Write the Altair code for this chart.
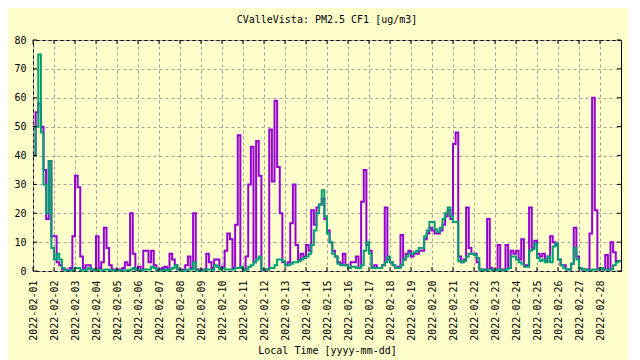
import altair as alt
import pandas as pd

TITLE = "CValleVista: PM2.5 CF1 [ug/m3]"
X_TITLE = "Local Time [yyyy-mm-dd]"
DAYS = list(range(1, 29))
HOURS = [0, 3, 6, 9, 12, 15, 18, 21]
Y_TICKS = [0, 10, 20, 30, 40, 50, 60, 70, 80]

# 3-hourly values, one row per day (Feb 1 .. Feb 28)
purple_vals = [
    [40, 55, 58, 50, 35, 18, 38, 12],
    [12, 3, 2, 0.5, 0.5, 0.3, 1, 12],
    [33, 29, 5, 1, 2, 2, 0.5, 0.5],
    [12, 1, 3, 15, 8, 2, 0.5, 0.5],
    [0.5, 0.5, 1, 3, 2, 20, 6, 0.5],
    [1.5, 0.5, 7, 7, 3, 7, 2, 0.5],
    [0.5, 1, 1.5, 0.5, 6, 4, 2, 0.5],
    [0.5, 0.5, 2, 5, 1, 20, 0.5, 0.5],
    [0.5, 0.5, 6, 3, 1, 4, 4, 1],
    [1.5, 7, 13, 11, 1, 16, 47, 1],
    [0.5, 5, 30, 43, 3, 45, 33, 0.5],
    [0.5, 0.5, 49, 31, 59, 36, 20, 3],
    [2, 3, 16.5, 30, 9, 4, 6, 5],
    [9, 7, 21, 16, 22, 23, 25, 18],
    [14, 10, 7, 5, 3, 2.5, 6, 2],
    [1, 3, 3, 5, 1, 24, 35, 9],
    [7, 1, 2, 1, 1, 2, 22, 4],
    [3, 2, 1, 1.5, 12.5, 4, 6, 7],
    [5, 6, 6, 7, 7, 11, 13, 15],
    [14, 13, 13, 14, 16, 19, 21, 18],
    [44, 48, 5, 3, 4, 22, 8, 6],
    [6, 3, 0.5, 0.5, 0.5, 18, 1, 0.5],
    [0.5, 9, 0.5, 0.5, 9, 1, 7, 6],
    [7, 4, 11, 2, 2, 22, 8, 10.5],
    [6, 5, 6, 3.5, 5, 12, 10, 9],
    [4, 2, 2, 0.5, 0.5, 2.5, 15, 5],
    [1, 0.5, 0.5, 0.5, 13, 60, 21, 0.5],
    [1, 0.5, 5.5, 0.5, 10, 6.5, 3.5, 3.5],
]

green_vals = [
    [40, 50, 75, 48, 30, 20, 38, 8],
    [4, 6, 4, 1, 0.3, 0.3, 0.3, 0.5],
    [1, 1, 0.3, 0.2, 0.5, 1, 0.5, 0.3],
    [0.5, 0.3, 0.3, 0.5, 0.5, 0.3, 0.2, 0.2],
    [0.2, 0.2, 0.3, 0.3, 0.3, 0.5, 1, 0.5],
    [0.3, 0.3, 0.5, 0.5, 0.5, 1.5, 1, 0.3],
    [0.2, 0.3, 0.5, 0.3, 0.5, 1, 2, 0.5],
    [0.2, 0.2, 0.3, 0.5, 0.5, 3, 0.3, 0.3],
    [0.2, 0.3, 0.5, 0.5, 0.3, 2, 1.5, 0.5],
    [1, 0.5, 0.5, 0.5, 0.5, 1, 1, 1.5],
    [0.3, 0.5, 1.5, 2, 3, 4, 5, 0.5],
    [0.5, 0.5, 1, 1, 2, 4, 4, 3.5],
    [2, 2, 2.5, 3, 3, 3.5, 4, 4.5],
    [5, 6, 9, 14, 20, 23, 28, 19],
    [13, 10, 6, 5, 2.5, 2, 2, 2],
    [1, 1.5, 1.5, 1, 1, 2, 7, 10],
    [6, 1, 1, 1, 1, 2, 3, 5],
    [3, 2, 1, 1, 2, 4, 5, 6],
    [6, 6.5, 7, 8, 8, 12, 14, 17],
    [17, 14.5, 13.5, 15, 18, 20, 22, 19],
    [17, 17, 3.5, 3, 3.5, 5, 6, 6],
    [5.5, 4.5, 0.5, 0.3, 0.3, 0.5, 0.5, 0.3],
    [0.3, 0.5, 0.3, 0.3, 0.5, 1, 5, 5],
    [4, 3, 2.5, 1.5, 1.5, 7, 7.5, 9.5],
    [4.5, 3.5, 4, 3, 5, 3, 8.5, 9.5],
    [4, 2, 1, 0.5, 0.5, 2.5, 8, 4],
    [1, 0.5, 0.5, 0.3, 0.3, 0.5, 0.5, 0.5],
    [1, 0.5, 0.5, 0.5, 0.5, 2, 3, 3.5],
]

END_TIME = "2022-03-01T00:00:00"
FONT = "DejaVu Sans Mono"
BG = "#ffffcc"
PURPLE = "#9400d3"
GREEN = "#009e73"


def series_frame(rows):
    times, vals = [], []
    for d, row in zip(DAYS, rows):
        for h, v in zip(HOURS, row):
            times.append(f"2022-02-{d:02d}T{h:02d}:00:00")
            vals.append(v)
    times.append(END_TIME)
    vals.append(rows[-1][-1])
    return pd.DataFrame({"time": times, "value": vals})


df_p = series_frame(purple_vals)
df_g = series_frame(green_vals)

x_scale = alt.Scale(domain=[alt.DateTime(year=2022, month=2, date=1),
                            alt.DateTime(year=2022, month=3, date=1)])
y_scale = alt.Scale(domain=[0, 80], nice=False, zero=True)

x_axis = alt.Axis(
    values=[alt.DateTime(year=2022, month=2, date=d) for d in DAYS],
    format="%Y-%m-%d", labelAngle=270, labelPadding=9, labelFont=FONT,
    labelFontSize=10, labelColor="black", ticks=False, tickSize=0, domain=False,
    grid=True, gridColor="#a0a0a0", gridDash=[3, 3], gridWidth=1,
    title=X_TITLE, titleFont=FONT, titleFontSize=10, titleFontWeight="normal",
    titleColor="black", titlePadding=5, labelOverlap=False, labelFlush=False,
)
y_axis = alt.Axis(
    values=Y_TICKS, labelFont=FONT, labelFontSize=10, labelColor="black",
    labelPadding=7, ticks=False, tickSize=0, domain=False, grid=True,
    gridColor="#a0a0a0", gridDash=[3, 3], gridWidth=1, title=None,
    labelOverlap=False, labelFlush=False,
)

X = alt.X("time:T", scale=x_scale, axis=x_axis)
Y = alt.Y("value:Q", scale=y_scale, axis=y_axis)

line_p = alt.Chart(df_p).mark_line(
    interpolate="step-after", color=PURPLE, strokeWidth=2
).encode(x=X, y=Y)
line_g = alt.Chart(df_g).mark_line(
    interpolate="step-after", color=GREEN, strokeWidth=2
).encode(x=X, y=Y)

ytick_df = pd.DataFrame({"value": Y_TICKS})
xtick_df = pd.DataFrame({"time": [f"2022-02-{d:02d}T00:00:00" for d in DAYS]})

W, H, TL = 588, 231, 4
yt_left = alt.Chart(ytick_df).mark_rule(color="black").encode(
    y=Y, x=alt.value(0), x2=alt.value(TL))
yt_right = alt.Chart(ytick_df).mark_rule(color="black").encode(
    y=Y, x=alt.value(W - TL), x2=alt.value(W))
xt_bot = alt.Chart(xtick_df).mark_rule(color="black").encode(
    x=X, y=alt.value(H - TL), y2=alt.value(H))
xt_top = alt.Chart(xtick_df).mark_rule(color="black").encode(
    x=X, y=alt.value(0), y2=alt.value(TL))

chart = alt.layer(line_p, line_g, yt_left, yt_right, xt_bot, xt_top).properties(
    width=W, height=H,
    title=alt.TitleParams(TITLE, font=FONT, fontSize=10, fontWeight="normal",
                          color="black", anchor="middle", offset=10),
    background=BG,
    padding={"left": 25, "top": 32, "right": 7, "bottom": 89},
    autosize=alt.AutoSizeParams(type="none"),
).configure_view(stroke="black", strokeWidth=1, fill=BG)

chart.save("out.html", embed_options={"renderer": "svg", "actions": False})
